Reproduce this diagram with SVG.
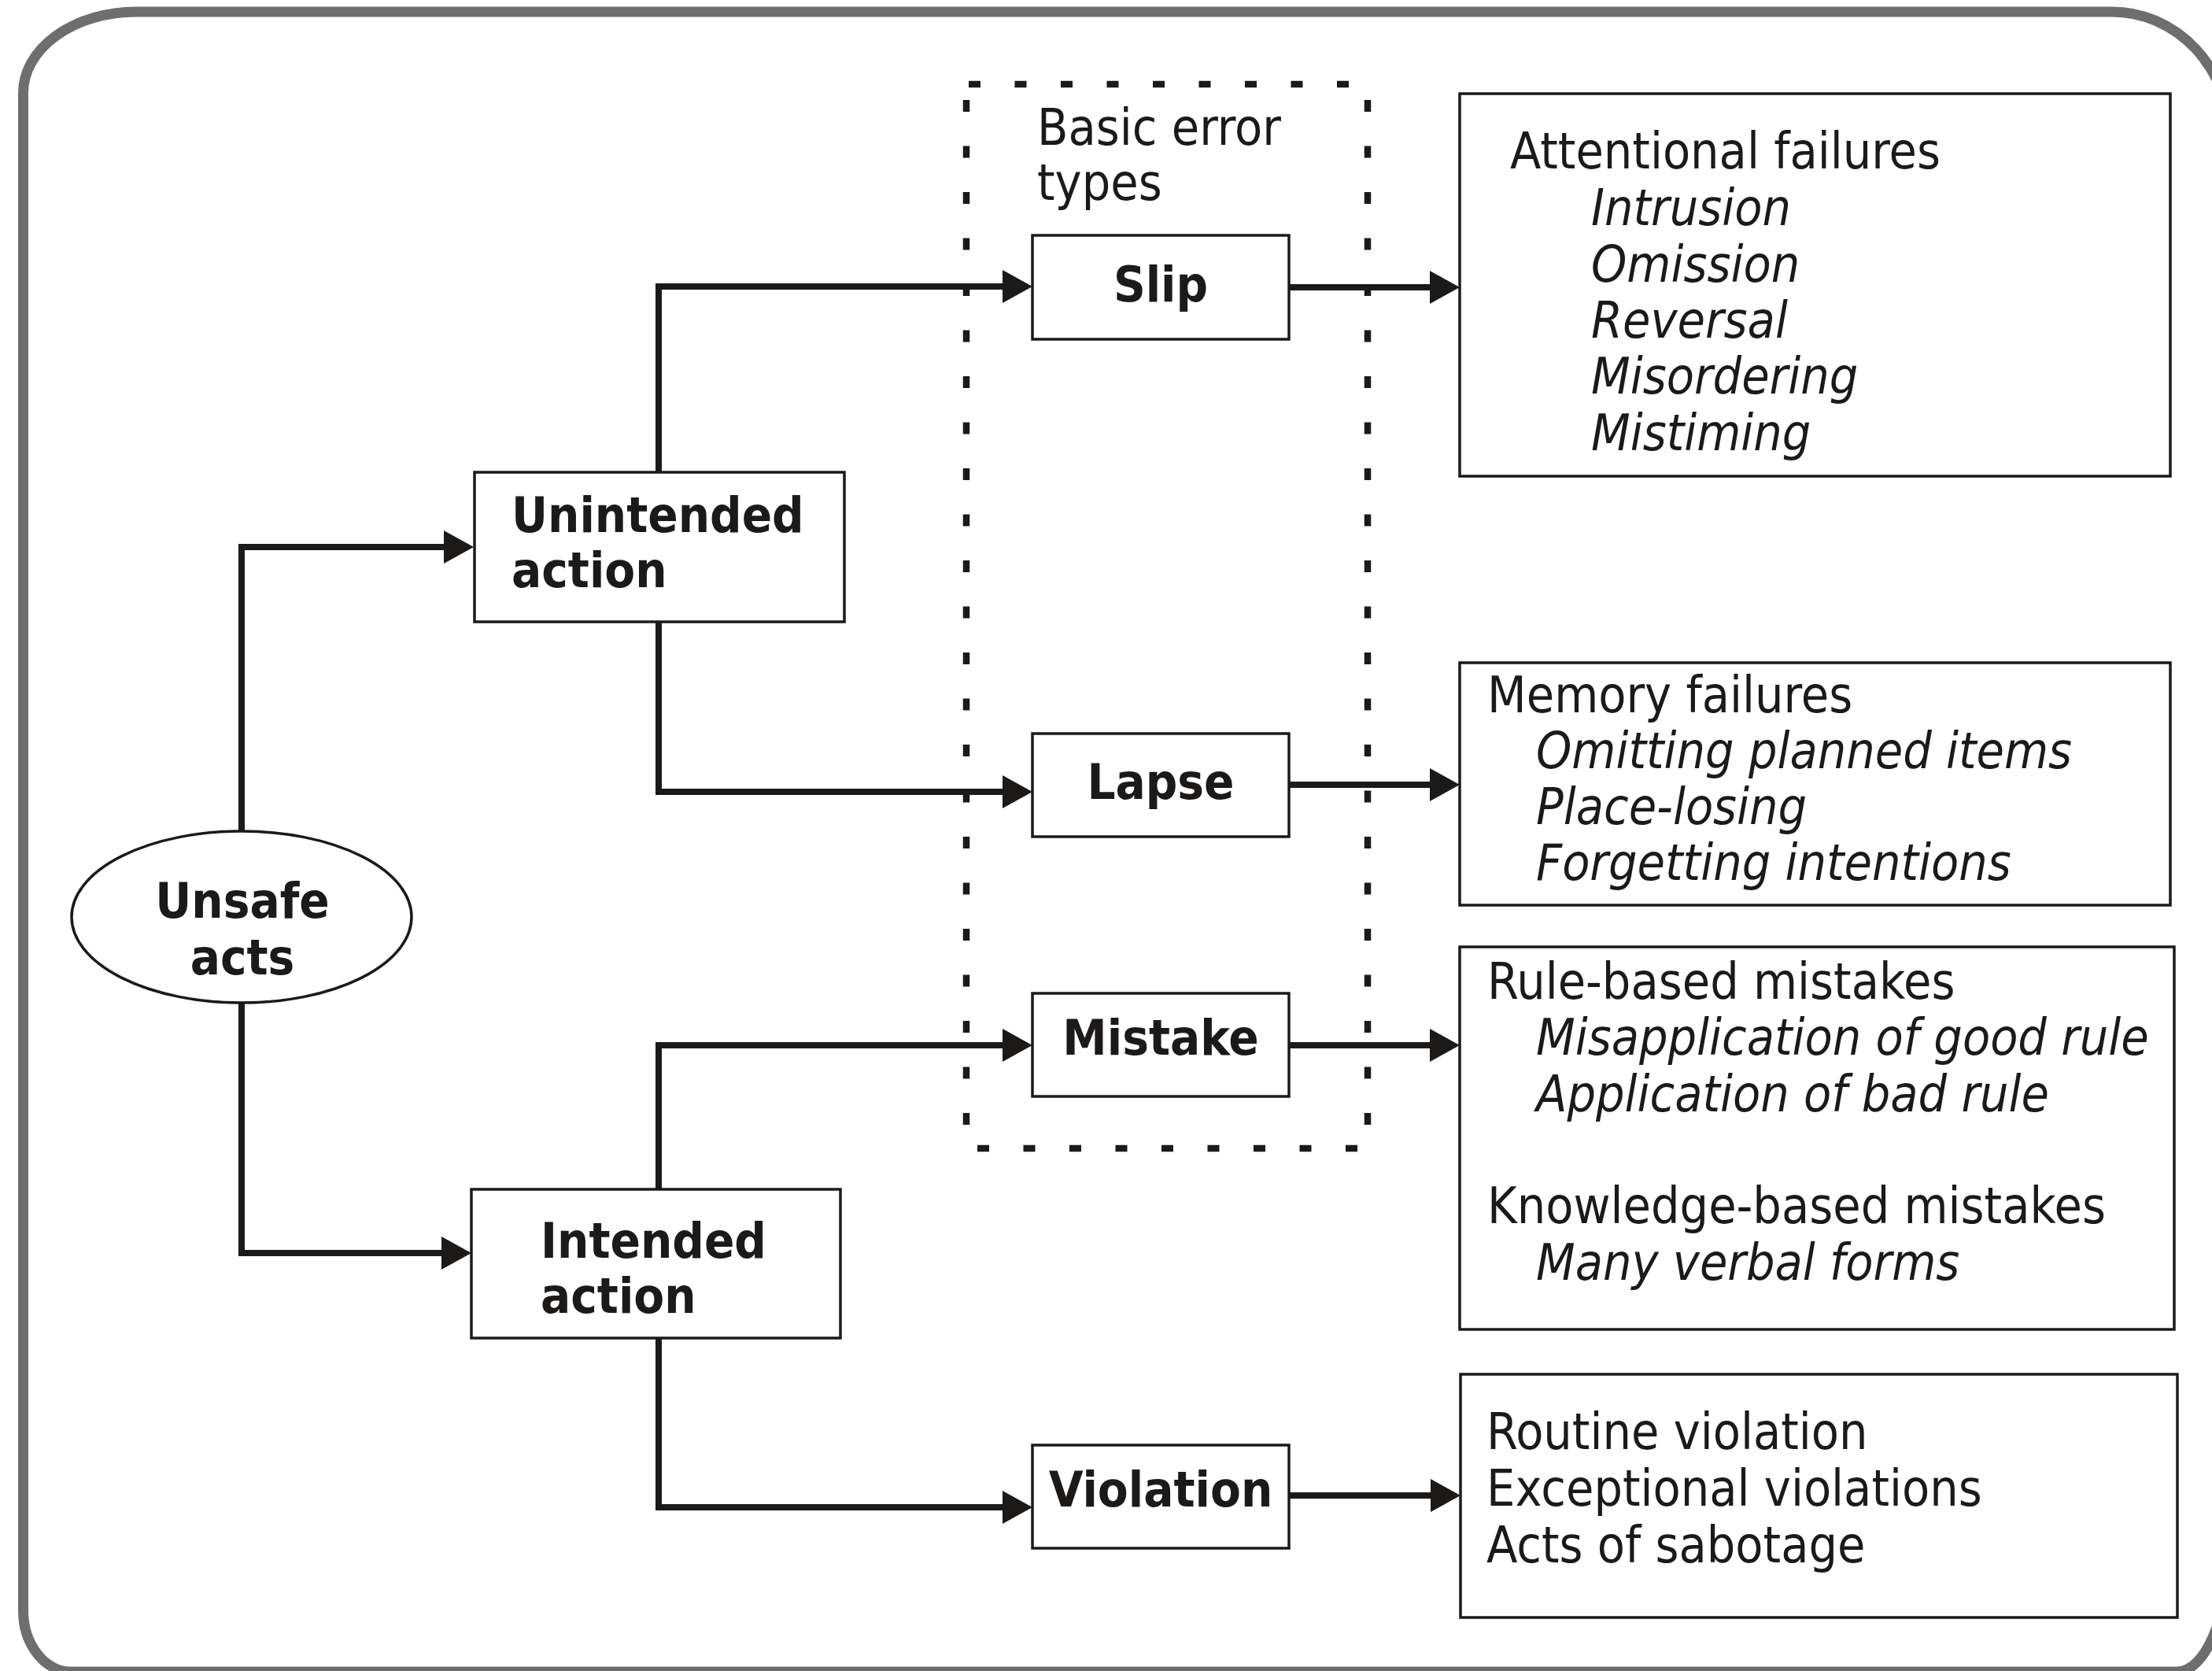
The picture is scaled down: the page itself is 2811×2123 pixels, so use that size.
<svg xmlns="http://www.w3.org/2000/svg" width="2811" height="2123" viewBox="0 0 2811 2123">
<style>
.box{fill:#fff;stroke:#1c1a19;stroke-width:3.5}
.conn{fill:none;stroke:#1c1a19;stroke-width:8;stroke-linejoin:miter}
.dash{fill:none;stroke:#1c1a19;stroke-width:8.5;stroke-dasharray:15 43.5}
.b{font-family:"DejaVu Sans Condensed","DejaVu Sans",sans-serif;font-weight:bold;font-size:63px;fill:#1c1a19}
.r{font-family:"DejaVu Sans Condensed","DejaVu Sans",sans-serif;font-size:64px;fill:#1c1a19}
.i{font-style:italic}
</style>
<defs>
<marker id="ah" markerUnits="userSpaceOnUse" markerWidth="38" markerHeight="42" viewBox="0 0 38 42" refX="8" refY="21" orient="auto">
<path d="M0,0 L38,21 L0,42 z" fill="#1c1a19"/>
</marker>
</defs>
<rect width="2811" height="2123" fill="#fff"/>
<path id="frame" d="M29.5,2046 L29.5,118 A144,103 0 0 1 173,15 L2684,15 A150,160 0 0 1 2834,175 L2834,2000 C2822,2070 2800,2124 2765,2124 L90,2124 A61,78 0 0 1 29.5,2046 Z" fill="none" stroke="#6e6e6e" stroke-width="13"/>
<g id="basic-error-types">
<line class="dash" x1="1231" y1="107" x2="1716" y2="107"/>
<line class="dash" x1="1242" y1="1459" x2="1731" y2="1459"/>
<line class="dash" x1="1228" y1="127" x2="1228" y2="1450"/>
<line class="dash" x1="1738" y1="127" x2="1738" y2="1450"/>
<text class="r" x="1318" y="184">Basic error</text>
<text class="r" x="1318" y="254">types</text>
</g>
<g id="connectors">
<path class="conn" d="M307,1057 V695 H572" marker-end="url(#ah)"/>
<path class="conn" d="M307,1274 V1592 H569" marker-end="url(#ah)"/>
<path class="conn" d="M837,600 V364 H1282" marker-end="url(#ah)"/>
<path class="conn" d="M837,790 V1006 H1282" marker-end="url(#ah)"/>
<path class="conn" d="M837,1511 V1328 H1282" marker-end="url(#ah)"/>
<path class="conn" d="M837,1700 V1915 H1282" marker-end="url(#ah)"/>
<path class="conn" d="M1638,365 H1825" marker-end="url(#ah)"/>
<path class="conn" d="M1638,997 H1825" marker-end="url(#ah)"/>
<path class="conn" d="M1638,1328 H1825" marker-end="url(#ah)"/>
<path class="conn" d="M1638,1900 H1826" marker-end="url(#ah)"/>
</g>
<g id="unsafe-acts">
<ellipse class="box" cx="307" cy="1165" rx="216" ry="109"/>
<text class="b" x="308" y="1166" text-anchor="middle">Unsafe</text>
<text class="b" x="308" y="1238" text-anchor="middle">acts</text>
</g>
<g id="unintended-action">
<rect class="box" x="603" y="600" width="470" height="190"/>
<text class="b" x="650" y="676">Unintended</text>
<text class="b" x="650" y="746">action</text>
</g>
<g id="intended-action">
<rect class="box" x="599" y="1511" width="469" height="189"/>
<text class="b" x="687" y="1598">Intended</text>
<text class="b" x="687" y="1668">action</text>
</g>
<g id="slip">
<rect class="box" x="1312" y="299" width="326" height="132"/>
<text class="b" x="1475" y="383" text-anchor="middle">Slip</text>
</g>
<g id="lapse">
<rect class="box" x="1312" y="932" width="326" height="131"/>
<text class="b" x="1475" y="1015" text-anchor="middle">Lapse</text>
</g>
<g id="mistake">
<rect class="box" x="1312" y="1262" width="326" height="131"/>
<text class="b" x="1475" y="1340" text-anchor="middle">Mistake</text>
</g>
<g id="violation">
<rect class="box" x="1312" y="1836" width="326" height="131"/>
<text class="b" x="1475" y="1914" text-anchor="middle">Violation</text>
</g>
<g id="attentional-failures">
<rect class="box" x="1855" y="119" width="903" height="486"/>
<text class="r" x="1919" y="214">Attentional failures</text>
<text class="r i" x="2022" y="286">Intrusion</text>
<text class="r i" x="2022" y="358">Omission</text>
<text class="r i" x="2022" y="429">Reversal</text>
<text class="r i" x="2022" y="500">Misordering</text>
<text class="r i" x="2022" y="572">Mistiming</text>
</g>
<g id="memory-failures">
<rect class="box" x="1855" y="842" width="903" height="308"/>
<text class="r" x="1890" y="905">Memory failures</text>
<text class="r i" x="1952" y="976">Omitting planned items</text>
<text class="r i" x="1952" y="1047">Place-losing</text>
<text class="r i" x="1952" y="1118">Forgetting intentions</text>
</g>
<g id="mistakes">
<rect class="box" x="1855" y="1203" width="908" height="486"/>
<text class="r" x="1890" y="1269">Rule-based mistakes</text>
<text class="r i" x="1952" y="1340">Misapplication of good rule</text>
<text class="r i" x="1952" y="1412">Application of bad rule</text>
<text class="r" x="1890" y="1554">Knowledge-based mistakes</text>
<text class="r i" x="1952" y="1626">Many verbal forms</text>
</g>
<g id="violations">
<rect class="box" x="1856" y="1746" width="911" height="309"/>
<text class="r" x="1889" y="1841">Routine violation</text>
<text class="r" x="1889" y="1913">Exceptional violations</text>
<text class="r" x="1889" y="1985">Acts of sabotage</text>
</g>
</svg>
